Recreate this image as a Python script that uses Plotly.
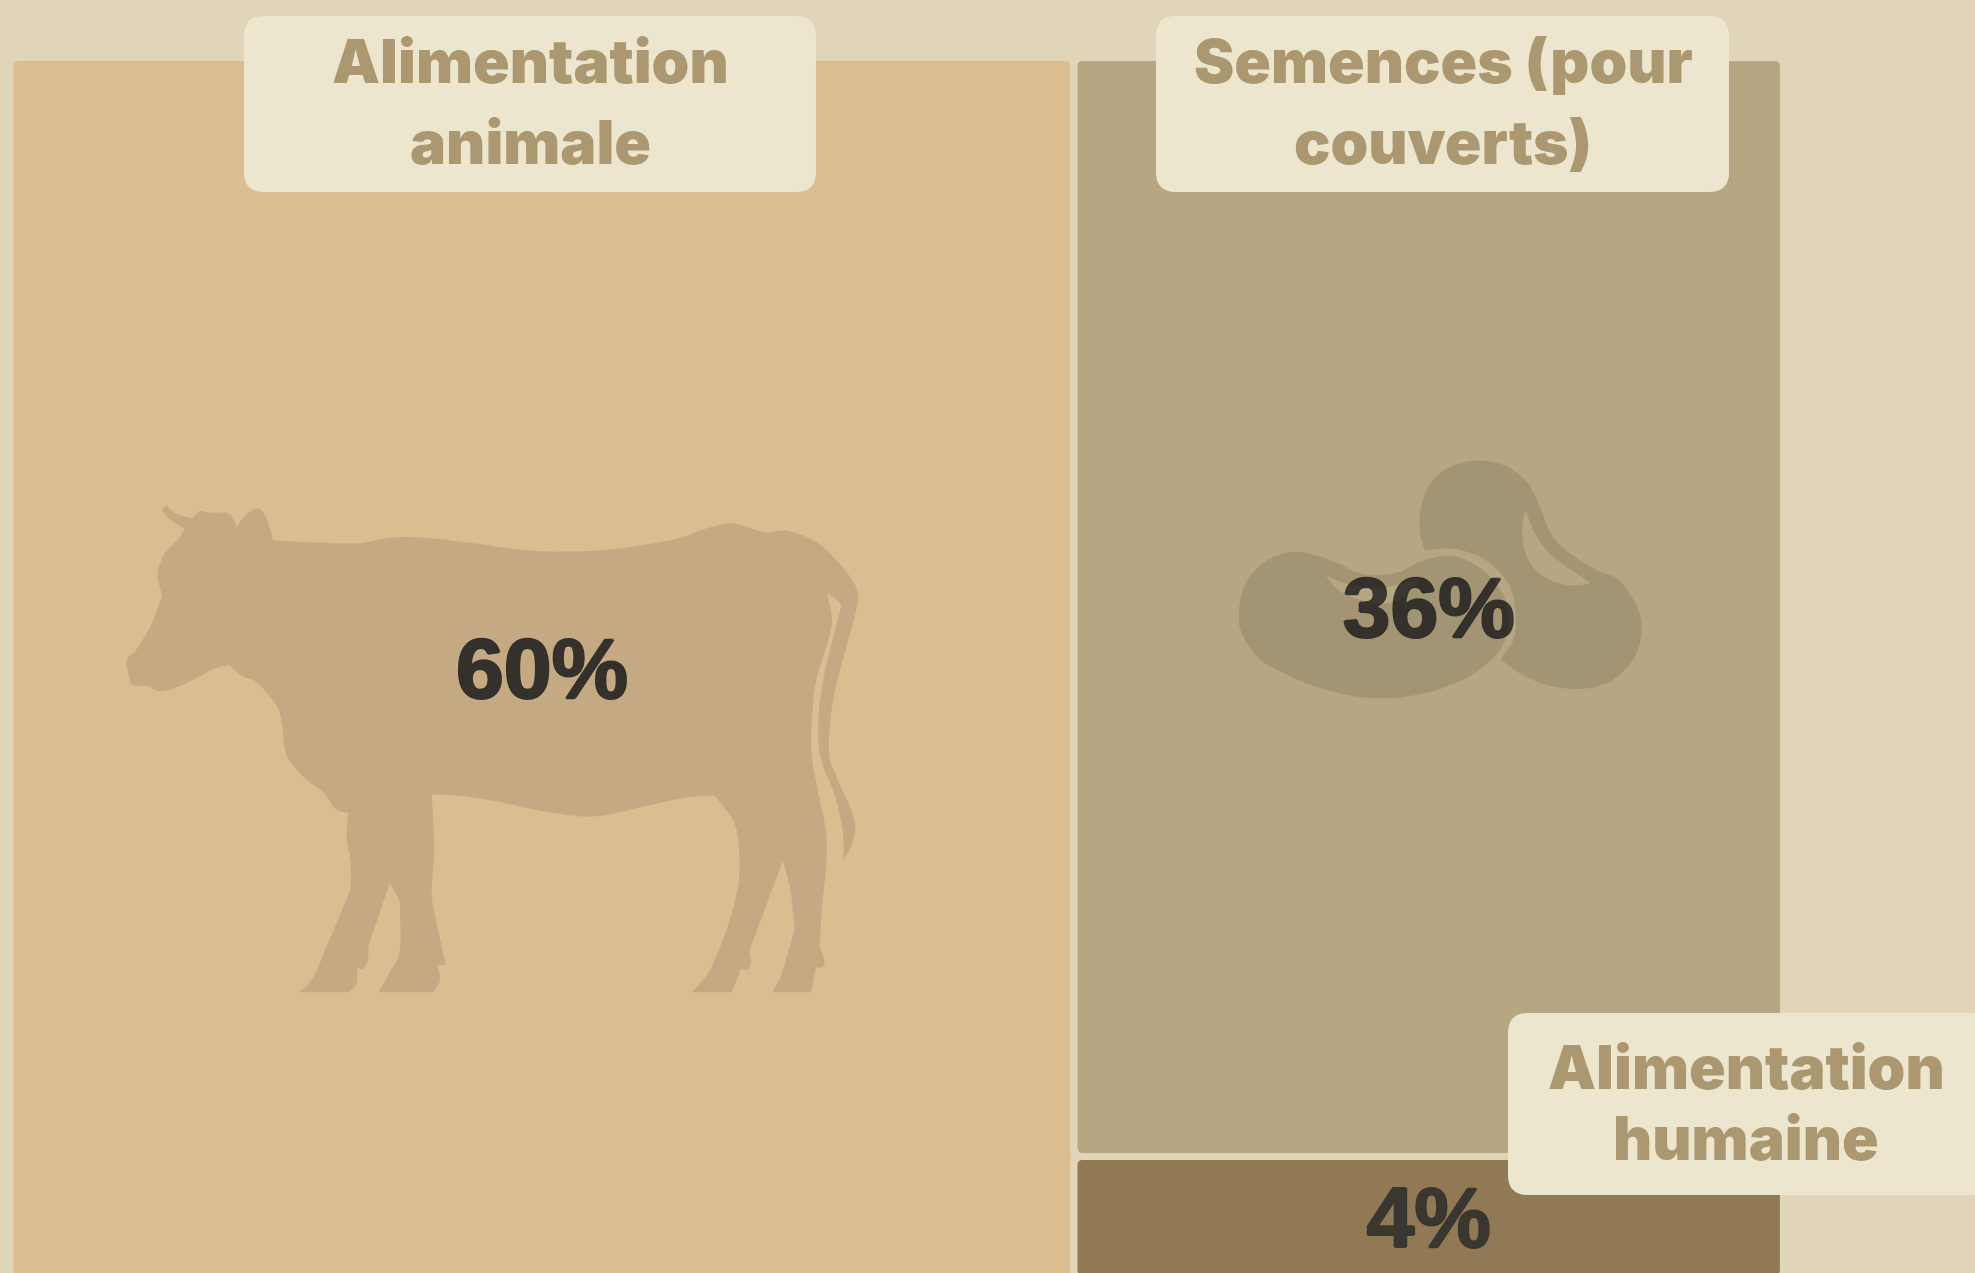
import plotly.graph_objects as go

# ---- data ----
categories = ["Alimentation animale", "Semences (pour couverts)", "Alimentation humaine"]
shares = [60, 36, 4]
column = [0, 1, 1]
label_lines = [["Alimentation", "animale"], ["Semences (pour", "couverts)"], ["Alimentation", "humaine"]]
bar_colors = ["#DBBD91", "#B6A681", "#927955"]

BG = "#E0D5B9"
BOX = "#ECE6CE"
LABEL = "#AB9870"
DARK = "#3A3630"
W, H = 1975, 1273
LABEL_FONT = "Inter"
VALUE_FONT = "Liberation Sans"

# page geometry of the plot
label_boxes = [(244, 16, 816, 192), (1156, 16, 1729, 192), (1508, 1013, 1990, 1195)]
label_xc = [530, 1443, 1746]
label_yc = [(61, 142), (61, 142), (1067, 1138)]
LABEL_SIZE = 60.5
VALUE_SIZE = 86

# traced silhouettes, in (u, v) of the source crops; third element marks a corner
cow = [(115,75,1),(125,90),(145,105),(168,113,1),(183,92),(205,97),(235,96),(250,110),(258,142,1),(272,110),(298,85),(312,95),(323,130),(332,178,1),
(420,185),(505,187),(575,170),(650,172),(730,185),(830,205),(910,212),(1020,205),(1150,175),(1210,145),(1265,128),(1300,140),(1335,155),(1380,150),
(1440,185),(1490,255),(1520,320),(1520,380),(1500,490),(1475,630),(1465,740),(1465,820),(1480,880),(1510,980),(1517,1030),(1510,1080),(1493,1128,1),
(1492,1040),(1475,930),(1455,860),(1443,790),(1443,690),(1455,570),(1475,450),(1488,375),(1480,355),(1460,335,1),(1470,420),(1455,510),(1438,590),
(1430,690),(1428,800),(1440,910),(1458,1040),(1458,1140),(1450,1260),(1445,1382,1),(1455,1425),(1450,1442),(1437,1442,1),(1428,1515,1),(1348,1515,1),
(1365,1470),(1380,1400),(1394,1328,1),(1385,1210),(1370,1128,1),(1302,1392,1),(1305,1430),(1298,1450),(1285,1445,1),(1266,1515,1),(1183,1515,1),
(1195,1500),(1225,1440),(1260,1310),(1280,1190),(1280,1080),(1268,1005),(1230,933,1),(1170,940),(1090,965),(990,995),(900,985),(800,955),(720,935),
(655,930,1),(660,1090),(655,1220),(665,1310),(684,1435,1),(666,1435,1),(672,1480),(658,1515,1),(546,1515,1),(570,1455),(590,1390),(590,1245,1),
(570,1192,1),(526,1380,1),(525,1420),(515,1447),(503,1443,1),(502,1490),(485,1515,1),(383,1515,1),(405,1490),(430,1420),(490,1210,1),(490,1130),
(482,1060),(485,985,1),(460,975),(435,925),(395,880),(360,815),(350,720),(340,670),(300,600),(270,580),(243,548,1),(210,560),(150,605),(105,625),
(75,610),(45,605),(37,570),(35,530),(50,510,1),(85,425),(106,340,1),(97,280),(110,220),(140,172),(152,145,1),(125,120),(107,90)]
bean_front = [(240,336),(330,360),(420,400),(480,405),(540,395),(600,365),(680,347),(750,365),(820,420),(860,490),(865,560),(840,630),(770,695),(680,740),
(590,765),(490,775),(380,765),(260,730),(135,670),(85,615),(60,565),(57,510),(70,445),(110,385),(170,347)]
bean_front_hole = [(318,406,1),(390,435),(480,445),(530,435),(600,418,1),(560,465),(500,490),(420,480),(355,450)]
bean_back = [(615,333,1),(600,280),(600,220),(620,150),(660,100),(720,70),(780,62),(850,75),(918,122),(960,200),(995,285),(1050,340),(1130,390),(1190,415),
(1235,470),(1262,530),(1262,600),(1235,665),(1170,725),(1080,747),(980,735),(900,700),(842,658,1),(880,600),(887,530),(870,440),(810,370),(740,335),(680,325)]
bean_back_hole = [(912,225),(920,222),(950,290),(1000,350),(1107,425,1),(1100,433),(1040,435),(970,410),(925,360),(907,290)]

# ---- scales ----
col_totals = [sum(s for s, c in zip(shares, column) if c == k) for k in (0, 1)]
col_left = [0, col_totals[0]]
widths = [col_totals[c] for c in column]
xs = [col_left[c] + col_totals[c] / 2 for c in column]
heights = [s / col_totals[c] * 100 for s, c in zip(shares, column)]
bases = [0, heights[2], 0]

X0, X100 = 10, 1783.4
Y0, Y100 = 1278.5, 57.5
px_x = (X100 - X0) / 100
px_y = (Y0 - Y100) / 100
x_range = [-X0 / px_x, (W - X0) / px_x]
y_range = [-(H - Y0) / px_y, Y0 / px_y]


def fx(x):
    return round(x / W, 5)


def fy(y):
    return round(1 - y / H, 5)


def smooth(points, to_xy):
    """Closed Catmull-Rom outline through the traced points; marked points stay sharp."""
    pts = [(*to_xy(p[0], p[1]), len(p) > 2) for p in points]
    n = len(pts)
    d = f"M{fx(pts[0][0])},{fy(pts[0][1])}"
    for i in range(n):
        p0, p1, p2, p3 = pts[i - 1], pts[i], pts[(i + 1) % n], pts[(i + 2) % n]
        c1 = p1[:2] if p1[2] else (p1[0] + (p2[0] - p0[0]) / 6, p1[1] + (p2[1] - p0[1]) / 6)
        c2 = p2[:2] if p2[2] else (p2[0] - (p3[0] - p1[0]) / 6, p2[1] - (p3[1] - p1[1]) / 6)
        d += f"C{fx(c1[0])},{fy(c1[1])} {fx(c2[0])},{fy(c2[1])} {fx(p2[0])},{fy(p2[1])}"
    return d + "Z"


cow_xy = lambda u, v: (110 + u / 2.036, 480 + v / 2.958)
bean_xy = lambda u, v: (1220 + u / 3, 440 + v / 3)


def rbox(x0, y0, x1, y1, r=20):
    P = lambda x, y: f"{fx(x)},{fy(y)}"
    return (f"M{P(x0+r,y0)}L{P(x1-r,y0)}Q{P(x1,y0)} {P(x1,y0+r)}L{P(x1,y1-r)}Q{P(x1,y1)} {P(x1-r,y1)}"
            f"L{P(x0+r,y1)}Q{P(x0,y1)} {P(x0,y1-r)}L{P(x0,y0+r)}Q{P(x0,y0)} {P(x0+r,y0)}Z")


shape_base = dict(type="path", xref="paper", yref="paper", line=dict(width=0), layer="above")
shapes = [
    dict(shape_base, path=smooth(cow, cow_xy), fillcolor="rgba(0,0,0,0.1)"),
    dict(shape_base, path=smooth(bean_back, bean_xy) + smooth(bean_back_hole, bean_xy), fillcolor="rgba(0,0,0,0.1)"),
    dict(shape_base, path=smooth(bean_front, bean_xy) + smooth(bean_front_hole, bean_xy), fillcolor="rgba(0,0,0,0.1)"),
]
shapes += [dict(shape_base, path=rbox(*b), fillcolor=BOX) for b in label_boxes]

annotations = []
for lines, xc, ycs in zip(label_lines, label_xc, label_yc):
    for line, yc in zip(lines, ycs):
        annotations.append(dict(text=line, x=xc / W, y=1 - yc / H, xref="paper", yref="paper", xanchor="center",
                                yanchor="middle", showarrow=False,
                                font=dict(family=LABEL_FONT, size=LABEL_SIZE, color=LABEL, weight=900)))

fig = go.Figure(go.Bar(
    x=xs, y=heights, base=bases, width=widths,
    marker=dict(color=bar_colors, line=dict(color=BG, width=7)),
    text=[f"{s}%" for s in shares],
    textposition="inside", insidetextanchor="middle", textangle=0, constraintext="none",
    textfont=dict(family=VALUE_FONT, size=VALUE_SIZE, color=DARK, weight=700,
                  shadow=f"1.2px 0 0 {DARK}, -1.2px 0 0 {DARK}, 0 1px 0 {DARK}, 0 -1px 0 {DARK}"),
    customdata=categories, hoverinfo="skip",
))
fig.update_layout(
    width=W, height=H, margin=dict(l=0, r=0, t=0, b=0, pad=0),
    paper_bgcolor=BG, plot_bgcolor="rgba(0,0,0,0)", barcornerradius=8, barmode="overlay", showlegend=False,
    xaxis=dict(range=x_range, visible=False, fixedrange=True),
    yaxis=dict(range=y_range, visible=False, fixedrange=True),
    shapes=shapes, annotations=annotations,
)
fig.write_html("out.html", config=dict(displayModeBar=False), post_script="document.body.style.margin='0';document.body.style.overflow='hidden';")
